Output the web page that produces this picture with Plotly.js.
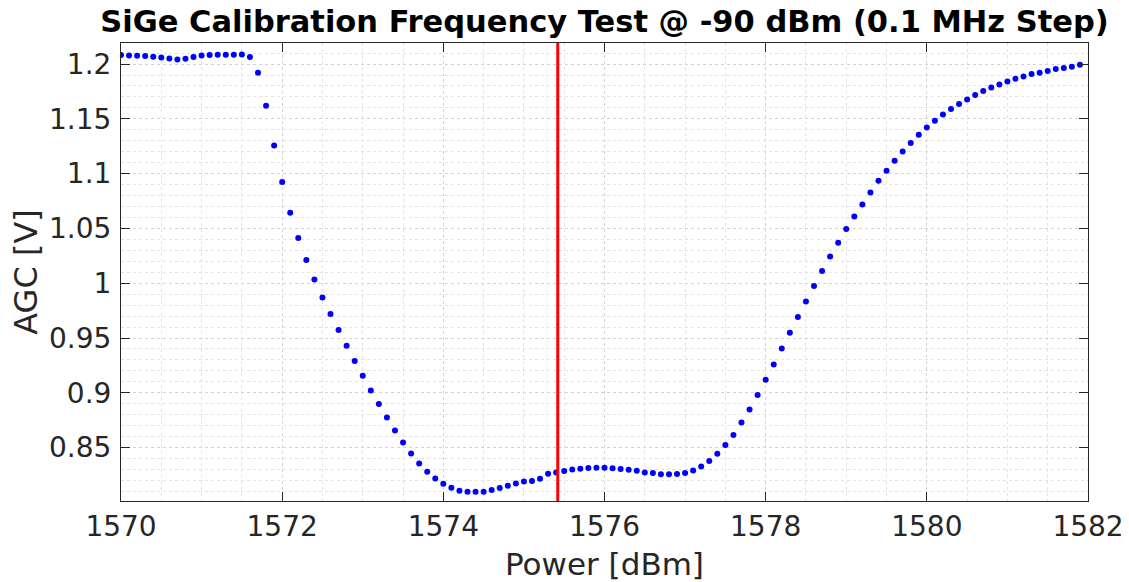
<!DOCTYPE html>
<html>
<head>
<meta charset="utf-8">
<script src="https://cdn.plot.ly/plotly-3.0.1.min.js"></script>
<style>html,body{margin:0;padding:0;background:#fff;}#chart{width:1129px;height:582px;}</style>
</head>
<body>
<div id="chart"></div>
<script>
const freq = [
1570.0,1570.1,1570.2,1570.3,1570.4,1570.5,1570.6,1570.7,1570.8,1570.9,
1571.0,1571.1,1571.2,1571.3,1571.4,1571.5,1571.6,1571.7,1571.8,1571.9,
1572.0,1572.1,1572.2,1572.3,1572.4,1572.5,1572.6,1572.7,1572.8,1572.9,
1573.0,1573.1,1573.2,1573.3,1573.4,1573.5,1573.6,1573.7,1573.8,1573.9,
1574.0,1574.1,1574.2,1574.3,1574.4,1574.5,1574.6,1574.7,1574.8,1574.9,
1575.0,1575.1,1575.2,1575.3,1575.4,1575.5,1575.6,1575.7,1575.8,1575.9,
1576.0,1576.1,1576.2,1576.3,1576.4,1576.5,1576.6,1576.7,1576.8,1576.9,
1577.0,1577.1,1577.2,1577.3,1577.4,1577.5,1577.6,1577.7,1577.8,1577.9,
1578.0,1578.1,1578.2,1578.3,1578.4,1578.5,1578.6,1578.7,1578.8,1578.9,
1579.0,1579.1,1579.2,1579.3,1579.4,1579.5,1579.6,1579.7,1579.8,1579.9,
1580.0,1580.1,1580.2,1580.3,1580.4,1580.5,1580.6,1580.7,1580.8,1580.9,
1581.0,1581.1,1581.2,1581.3,1581.4,1581.5,1581.6,1581.7,1581.8,1581.9
];
const agc = [
1.2082,1.2078,1.2076,1.2073,1.2067,1.2060,1.2051,1.2042,1.2048,1.2064,
1.2078,1.2082,1.2085,1.2085,1.2085,1.2088,1.2064,1.1921,1.1620,1.1257,
1.0923,1.0643,1.0412,1.0212,1.0035,0.9870,0.9719,0.9573,0.9430,0.9290,
0.9156,0.9022,0.8898,0.8776,0.8657,0.8547,0.8447,0.8356,0.8280,0.8219,
0.8171,0.8134,0.8107,0.8098,0.8098,0.8098,0.8113,0.8131,0.8152,0.8173,
0.8192,0.8195,0.8216,0.8262,0.8274,0.8286,0.8301,0.8307,0.8314,0.8317,
0.8317,0.8312,0.8305,0.8298,0.8289,0.8274,0.8268,0.8256,0.8256,0.8259,
0.8268,0.8292,0.8328,0.8378,0.8444,0.8524,0.8615,0.8730,0.8849,0.8980,
0.9120,0.9259,0.9405,0.9548,0.9692,0.9834,0.9974,1.0111,1.0245,1.0370,
1.0495,1.0609,1.0719,1.0828,1.0935,1.1026,1.1118,1.1202,1.1280,1.1355,
1.1422,1.1483,1.1540,1.1589,1.1635,1.1677,1.1717,1.1754,1.1786,1.1814,
1.1841,1.1866,1.1887,1.1909,1.1921,1.1936,1.1954,1.1964,1.1975,1.1994
];
const markerFreq = 1575.42;
const yRange = [0.8013, 1.2192];
const xRange = [1570, 1582];
const xTickVals = [1570, 1572, 1574, 1576, 1578, 1580, 1582];
const xTickText = ['1570', '1572', '1574', '1576', '1578', '1580', '1582'];
const yTickVals = [0.85, 0.9, 0.95, 1, 1.05, 1.1, 1.15, 1.2];
const yTickText = ['0.85', '0.9', '0.95', '1', '1.05', '1.1', '1.15', '1.2'];

const txt = '#262626';
const font = 'DejaVu Sans, Liberation Sans, sans-serif';

const traces = [
  {
    x: freq, y: agc, type: 'scatter', mode: 'markers',
    marker: {color: '#0000ff', size: 6},
    hoverinfo: 'skip', showlegend: false, cliponaxis: true
  },
  {
    x: [markerFreq, markerFreq], y: yRange, type: 'scatter', mode: 'lines',
    line: {color: '#ff0000', width: 3},
    hoverinfo: 'skip', showlegend: false
  }
];

const axisCommon = {
  showline: true, linecolor: txt, linewidth: 1, mirror: 'ticks',
  ticks: 'inside', ticklen: 9, tickwidth: 1, tickcolor: txt,
  showgrid: true, gridcolor: '#d4d4d4', gridwidth: 1, griddash: 'dot',
  zeroline: false,
  tickfont: {family: font, size: 28, color: txt},
  tickmode: 'array'
};

const layout = {
  width: 1129, height: 582,
  paper_bgcolor: '#ffffff', plot_bgcolor: '#ffffff',
  margin: {l: 121, r: 41, t: 43, b: 81, pad: 0},
  title: {
    text: '<b>SiGe Calibration Frequency Test @ -90 dBm (0.1 MHz Step)</b>',
    font: {family: font, size: 30.5, color: '#000000'},
    x: 0.5, xref: 'paper', xanchor: 'center',
    y: 1 - 21 / 582, yref: 'container', yanchor: 'middle'
  },
  xaxis: Object.assign({}, axisCommon, {
    range: xRange, tickvals: xTickVals, ticktext: xTickText,
    ticklabelstandoff: 0,
    minor: {dtick: 0.5, tick0: 1570, showgrid: true, gridcolor: '#e3e3e3', griddash: 'dot', gridwidth: 1, ticks: ''},
    title: {text: 'Power [dBm]', font: {family: font, size: 31, color: txt}, standoff: 12}
  }),
  yaxis: Object.assign({}, axisCommon, {
    range: yRange, tickvals: yTickVals, ticktext: yTickText,
    ticklabelstandoff: 3,
    minor: {dtick: 0.01, tick0: 0.8, showgrid: true, gridcolor: '#e3e3e3', griddash: 'dot', gridwidth: 1, ticks: ''},
    title: {text: 'AGC [V]', font: {family: font, size: 32, color: txt}, standoff: 1}
  })
};

Plotly.newPlot('chart', traces, layout, {displayModeBar: false, staticPlot: true});
</script>
</body>
</html>
